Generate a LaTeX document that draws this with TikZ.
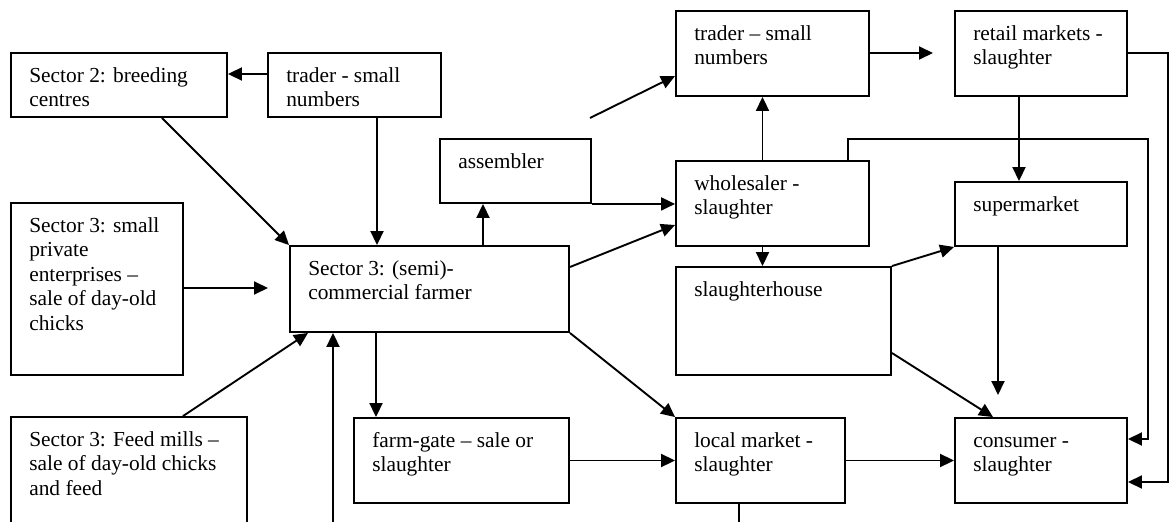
\documentclass[tikz,border=0pt]{standalone}
\usepackage{fontspec}
\setmainfont{Liberation Serif}
\usetikzlibrary{arrows.meta,calc}

\tikzset{
  cell/.style={draw, rectangle, line width=1.9pt, inner sep=0pt},
  txt/.style={anchor=north west, align=left, inner sep=0pt,
              font=\fontsize{21.4pt}{24.5pt}\selectfont},
  link/.style={line width=1.9pt},
  arr/.style={link, -{Triangle[length=14pt,width=13pt]}}
}

% box from (x1,y1) to (x2,y2) with its text set top left
\newcommand\cellbox[6]{%
  \node[cell, minimum width={#4-#2}, minimum height={#5-#3}] (#1)
    at ({(#2+#4)/2},{(#3+#5)/2}) {};
  \node[txt] (#1-t) at ([shift={(19,13)}]#1.north west) {\rule{0pt}{17pt}#6};
}

\begin{document}
\begin{tikzpicture}[x=1pt,y=-1pt]
\useasboundingbox (0,0) rectangle (1170,522);
\clip (0,0) rectangle (1170,522);

% boxes
\cellbox{s2}{11}{53}{227}{117}{Sector 2: breeding\\centres}
\cellbox{trL}{268}{53}{441}{117}{trader - small\\numbers}
\cellbox{sp}{11}{203}{183}{375}{Sector 3: small\\private\\enterprises –\\sale of day-old\\chicks}
\cellbox{fm}{11}{417}{247}{560}{Sector 3: Feed mills –\\sale of day-old chicks\\and feed}
\cellbox{farm}{290}{246}{569}{332}{Sector 3: (semi)-\\commercial farmer}
\cellbox{asm}{440}{139}{591}{203}{assembler}
\cellbox{trR}{676}{11}{869}{96}{trader – small\\numbers}
\cellbox{ret}{955}{11}{1127}{96}{retail markets -\\slaughter}
\cellbox{whs}{676}{161}{869}{246}{wholesaler -\\slaughter}
\cellbox{sup}{955}{182}{1127}{246}{supermarket}
\cellbox{slh}{676}{267}{891}{375}{slaughterhouse}
\cellbox{fg}{354}{418}{569}{503}{farm-gate – sale or\\slaughter}
\cellbox{lm}{676}{418}{845}{503}{local market -\\slaughter}
\cellbox{con}{955}{418}{1127}{503}{consumer -\\slaughter}

% free ends of connectors
\coordinate (spEnd) at (268,288);
\coordinate (botA) at (333,530);
\coordinate (trStart) at (590,118);
\coordinate (retEnd) at (933,53);
\coordinate (supEnd) at (998,395);
\coordinate (botB) at (739,530);

% input side
\draw[arr] (trL.west |- 0,74) -- (s2.east |- 0,74);
\draw[arr] (s2.south -| 162,0) -- (farm.north west);
\draw[arr] (trL.south -| 377,0) -- (farm.north -| 377,0);
\draw[arr] (sp.east |- spEnd) -- (spEnd);
\draw[arr] (fm.north -| 183,0) -- (farm.south -| 308,0);
\draw[arr] (botA) -- (farm.south -| botA);

% from the farmer
\draw[arr] (farm.north -| 483,0) -- (asm.south -| 483,0);
\draw[arr] (asm.south east) -- (asm.south east -| whs.west);
\draw[arr] (farm.east |- 0,267) -- (whs.west |- 0,225);
\draw[arr] (farm.south -| 376,0) -- (fg.north -| 376,0);
\draw[arr] (farm.south east) -- (lm.north west);

% traders and wholesaler
\draw[arr] (trStart) -- (trR.west |- 0,76);
\draw[arr] (whs.north -| 762.5,0) -- (trR.south -| 762.5,0);
\draw[arr] (whs.south -| 762.5,0) -- (slh.north -| 762.5,0);
\draw[arr] (trR.east |- retEnd) -- (retEnd);
\draw[arr] (ret.south -| 1019,0) -- (sup.north -| 1019,0);

% to the consumer
\draw[arr] (whs.north -| 848,0) |- (1148,139) |- (con.east |- 0,439);
\draw[arr] (ret.east |- 0,53) -| (1168,482) -- (con.east |- 0,482);
\draw[arr] (slh.north east) -- (sup.south west);
\draw[arr] (slh.east |- 0,353) -- (con.north -| 993,0);
\draw[arr] (sup.south -| supEnd) -- (supEnd);
\draw[arr] (fg.east) -- (lm.west);
\draw[arr] (lm.east) -- (con.west);
\draw[link] (lm.south -| botB) -- (botB);
\end{tikzpicture}
\end{document}
